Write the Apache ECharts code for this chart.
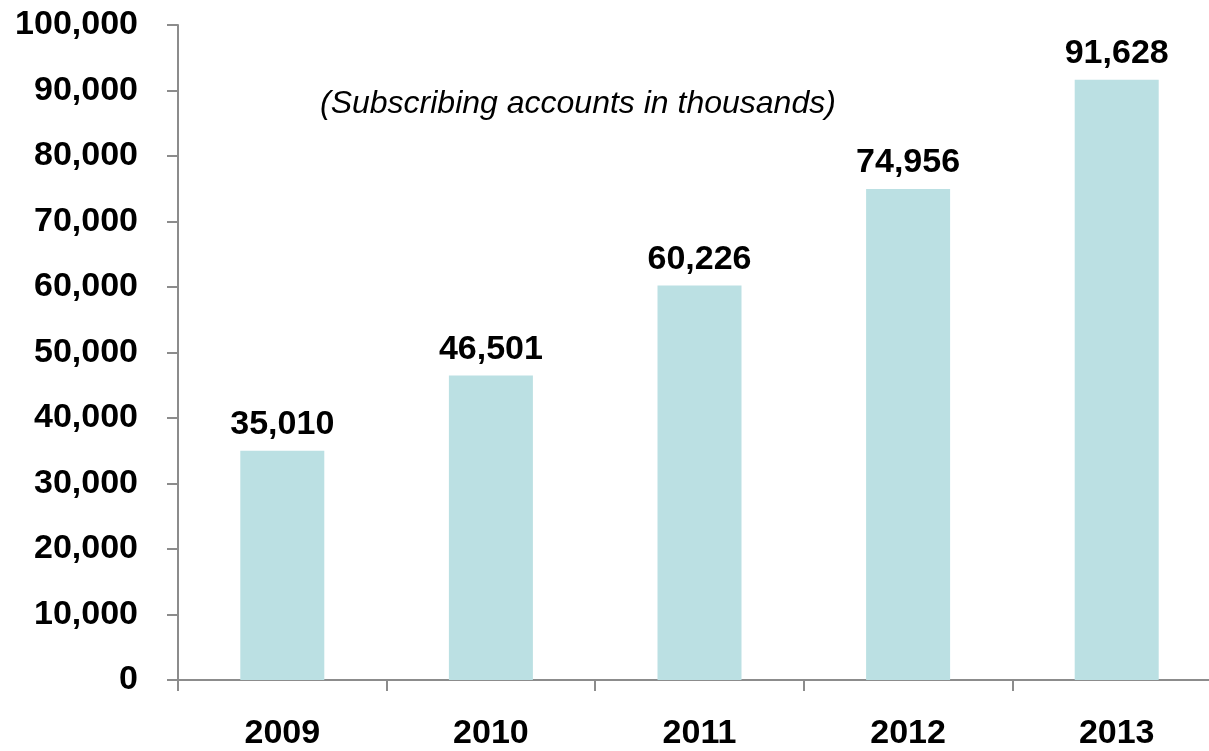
<!DOCTYPE html>
<html>
<head>
<meta charset="utf-8">
<script src="https://cdn.jsdelivr.net/npm/echarts@6/dist/echarts.min.js"></script>
<style>
  html, body { margin: 0; padding: 0; background: #ffffff; overflow: hidden; }
  /* the category axis runs a little past the right edge of the page */
  #chart { width: 1221px; height: 751px; }
</style>
</head>
<body>
<div id="chart"></div>
<script>
// Subscribing accounts per year (thousands)
const years = ['2009', '2010', '2011', '2012', '2013'];
const accounts = [35010, 46501, 60226, 74956, 91628];
const yTicks = [0, 10000, 20000, 30000, 40000, 50000, 60000, 70000, 80000, 90000, 100000];
const subtitle = '(Subscribing accounts in thousands)';

const fmt = v => Number(v).toLocaleString('en-US');
const FONT = '"Liberation Sans", Arial, Helvetica, sans-serif';
const AXIS_GREY = '#8c8c8c';

const chart = echarts.init(document.getElementById('chart'), null, { renderer: 'canvas' });

chart.setOption({
  animation: false,
  backgroundColor: '#ffffff',
  title: {
    text: subtitle,
    left: 315,
    top: 83,
    textStyle: {
      fontFamily: FONT,
      fontStyle: 'italic',
      fontWeight: 'normal',
      fontSize: 32,
      color: '#000000'
    }
  },
  grid: {
    left: 178,
    top: 25,
    right: 0,
    height: 657,
    containLabel: false
  },
  xAxis: {
    type: 'category',
    data: years,
    axisLine: { show: true, lineStyle: { color: AXIS_GREY, width: 2 } },
    axisTick: {
      show: true,
      alignWithLabel: false,
      interval: 0,
      length: 11,
      lineStyle: { color: AXIS_GREY, width: 2 }
    },
    axisLabel: {
      interval: 0,
      margin: 37,
      fontFamily: FONT,
      fontWeight: 'bold',
      fontSize: 34,
      color: '#000000'
    },
    splitLine: { show: false }
  },
  yAxis: {
    type: 'value',
    min: yTicks[0],
    max: yTicks[yTicks.length - 1],
    interval: yTicks[1] - yTicks[0],
    axisLine: { show: true, lineStyle: { color: AXIS_GREY, width: 2 } },
    axisTick: { show: true, length: 11, lineStyle: { color: AXIS_GREY, width: 2 } },
    axisLabel: {
      margin: 40,
      formatter: v => fmt(v),
      fontFamily: FONT,
      fontWeight: 'bold',
      fontSize: 34,
      color: '#000000'
    },
    splitLine: { show: false }
  },
  series: [{
    type: 'bar',
    data: accounts,
    barWidth: 84,
    itemStyle: { color: '#BBE0E3' },
    label: {
      show: true,
      position: 'top',
      distance: 9,
      formatter: p => fmt(p.value),
      fontFamily: FONT,
      fontWeight: 'bold',
      fontSize: 34,
      color: '#000000'
    }
  }]
});
</script>
</body>
</html>
